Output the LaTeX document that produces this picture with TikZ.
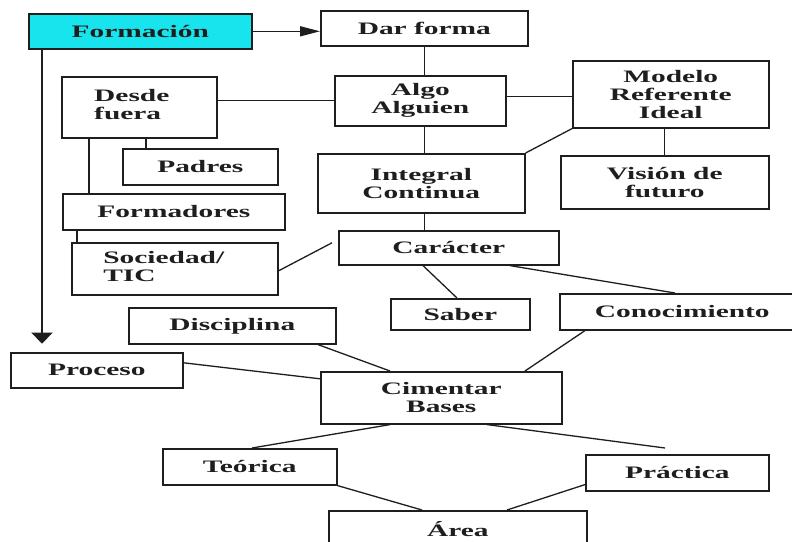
\documentclass[tikz,border=0pt]{standalone}
\usepackage{fontspec}
\setmainfont{Liberation Serif}[FakeStretch=1.68]
\usetikzlibrary{arrows.meta,calc}
\definecolor{ink}{HTML}{1E1E1E}
\definecolor{cyanfill}{HTML}{18E4EE}
\begin{document}
\begin{tikzpicture}[x=1pt,y=-1pt,
  box/.style={draw=ink, line width=1.6pt, rectangle, inner sep=0pt,
    anchor=north west, align=center,
    font=\fontsize{17.5}{18}\selectfont\bfseries, text=ink},
  link/.style={draw=ink, line width=1.3pt},
  hhead/.style={-{Triangle[length=20pt,width=10pt]}},
  vhead/.style={-{Triangle[length=11pt,width=21pt]}}]
\clip (0,0) rectangle (792,541);
\fill[white] (0,0) rectangle (792,541);

% boxes
\node[box, minimum width=223pt, minimum height=35pt, fill=cyanfill] (form) at (28,13) {Formación};
\node[box, minimum width=207pt, minimum height=35pt] (dar) at (320,10) {Dar forma};
\node[box, minimum width=155pt, minimum height=61pt] (desde) at (61,76)
  {\begin{tabular}{@{}l@{\hspace{15pt}}}Desde\\fuera\end{tabular}};
\node[box, minimum width=171pt, minimum height=50pt] (algo) at (334,75) {Algo\\Alguien};
\node[box, minimum width=196pt, minimum height=67pt] (modelo) at (572,60) {Modelo\\Referente\\Ideal};
\node[box, minimum width=207pt, minimum height=59pt] (integral) at (317,153) {Integral\\Continua};
\node[box, minimum width=208pt, minimum height=53pt] (vision) at (560,155) {Visión de\\futuro};
\node[box, minimum width=155pt, minimum height=36pt] (padres) at (122,148) {Padres};
\node[box, minimum width=222pt, minimum height=36pt] (formadores) at (62,193) {Formadores};
\node[box, minimum width=206pt, minimum height=52pt] (sociedad) at (71,242)
  {\begin{tabular}{@{}l@{\hspace{22pt}}}Sociedad/\\TIC\end{tabular}};
\node[box, minimum width=220pt, minimum height=34pt] (caracter) at (338,230) {Carácter};
\node[box, minimum width=139pt, minimum height=31pt] (saber) at (390,298) {Saber};
\node[box, minimum width=251pt, minimum height=36pt] (conoc) at (559,293)
  {Conocimiento\hspace*{6pt}};
\node[box, minimum width=207pt, minimum height=36pt] (disciplina) at (128,307) {Disciplina};
\node[box, minimum width=172pt, minimum height=35pt] (proceso) at (10,352) {Proceso};
\node[box, minimum width=241pt, minimum height=52pt] (cimentar) at (320,371) {Cimentar\\Bases};
\node[box, minimum width=174pt, minimum height=36pt] (teorica) at (162,448) {Teórica};
\node[box, minimum width=183pt, minimum height=36pt] (practica) at (585,454) {Práctica};
\node[box, minimum width=258pt, minimum height=36pt] (area) at (328,510) {Área};

% arrows from Formación
\draw[link, line width=1.6pt, hhead] (form.east) -- (form.east -| dar.west);
\coordinate (procesoTip) at ($(form.south west)+(14,294)$);
\draw[link, line width=2.6pt, vhead] ([xshift=14pt]form.south west) -- (procesoTip);

% central column
\draw[link] (dar.south) -- (dar.south |- algo.north);
\draw[link] (algo.south -| dar.south) -- (integral.north -| dar.south);
\draw[link] (integral.south -| dar.south) -- (caracter.north -| dar.south);

% left branch
\draw[link] (algo.west) -- (algo.west -| desde.east);
\draw[link] ([xshift=24pt]padres.north west) -- ([xshift=24pt]padres.north west |- desde.south);
\draw[link] ([xshift=27pt]formadores.north west) -- ([xshift=27pt]formadores.north west |- desde.south);
\draw[link] ([xshift=6pt]sociedad.north west) -- ([xshift=6pt]sociedad.north west |- formadores.south);
\draw[link] ([yshift=-2pt]sociedad.east) -- ([xshift=-6pt,yshift=5pt]caracter.west);

% right branch
\draw[link] ([yshift=4pt]algo.east) -- ([yshift=4pt]algo.east -| modelo.west);
\draw[link] (modelo.south west) -- (integral.north east);
\draw[link] (vision.north) -- (vision.north |- modelo.south);

% Carácter
\draw[link] ([xshift=85pt]caracter.south west) -- ([xshift=67pt]saber.north west);
\draw[link] ([xshift=172pt]caracter.south west) -- ([xshift=116pt]conoc.north west);

% Cimentar Bases
\draw[link] ([xshift=190pt]disciplina.south west) -- ([xshift=70pt]cimentar.north west);
\draw[link] ([yshift=7.5pt]proceso.east) -- ([yshift=19pt]cimentar.west);
\draw[link] ([xshift=26pt]conoc.south west) -- ([xshift=205pt]cimentar.north west);
\draw[link] ([xshift=70pt]cimentar.south west) -- ([xshift=90pt]teorica.north west);
\draw[link] ([xshift=167pt]cimentar.south west) -- ([xshift=80pt,yshift=6pt]practica.north west);

% Área
\draw[link] ([yshift=7pt]practica.south west) -- ([xshift=179pt]area.north west);
\draw[link] (teorica.south east) -- ([xshift=94pt]area.north west);
\end{tikzpicture}
\end{document}
